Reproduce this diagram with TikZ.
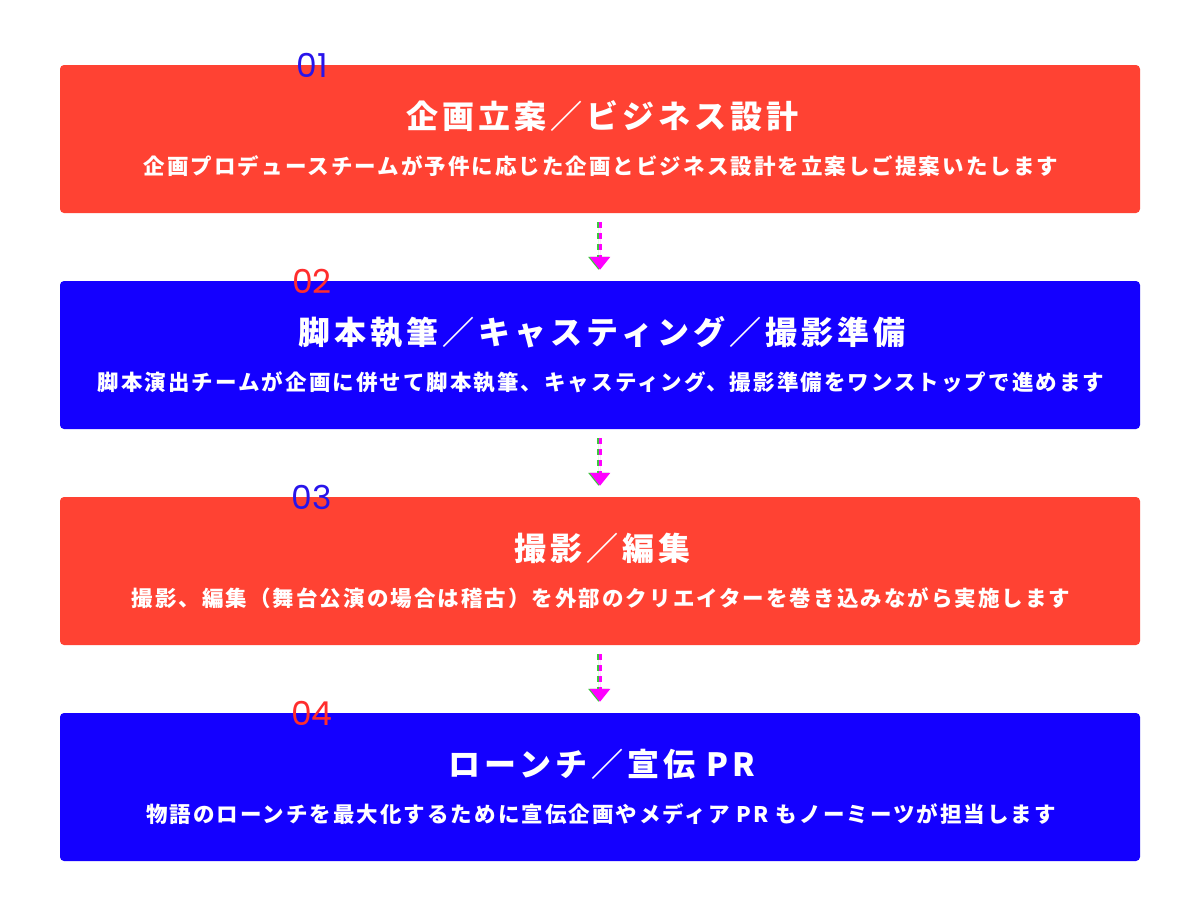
\documentclass[tikz,border=0pt]{standalone}
\usepackage{fontspec}
\usetikzlibrary{arrows.meta}
\newfontfamily\jptitle{Noto Sans CJK JP}[LetterSpace=12.5]
\newfontfamily\jpsub{Noto Sans CJK JP}[LetterSpace=9.5]
\newfontfamily\numfont{Poppins}
\definecolor{stepred}{RGB}{255,66,51}
\definecolor{stepblue}{RGB}{20,0,255}
\definecolor{numblue}{RGB}{40,20,235}
\definecolor{numred}{RGB}{255,45,45}
\definecolor{arrmag}{RGB}{255,0,255}
\definecolor{arrgreen}{RGB}{60,200,60}
\tikzset{
  x=1pt, y=-1pt,
  stepbox/.style={rectangle, rounded corners=4pt, minimum width=1080pt, minimum height=148pt, inner sep=0pt, draw=none},
  redbox/.style={stepbox, fill=stepred},
  bluebox/.style={stepbox, fill=stepblue},
  titletext/.style={anchor=base, text=white, inner sep=0pt, font=\jptitle\bfseries\fontsize{32}{38}\selectfont},
  subtext/.style={anchor=base, text=white, inner sep=0pt, font=\jpsub\bfseries\fontsize{21.5}{26}\selectfont},
  numtext/.style={anchor=base, inner sep=0pt, font=\numfont\fontsize{33}{36}\selectfont},
  flowarr/.style={draw=arrmag, line width=3pt, dash pattern=on 6pt off 5pt, -{Triangle[width=20pt,length=13pt]}, fill=arrmag},
  flowarrg/.style={draw=arrgreen, line width=3pt, dash pattern=on 6pt off 5pt, -{Triangle[width=20pt,length=13pt]}, fill=arrgreen}
}
\begin{document}
\begin{tikzpicture}
\useasboundingbox[fill=white] (0,0) rectangle (1200,908);
\node[redbox]  (b1) at (600,139) {};
\node[bluebox] (b2) at (600,355) {};
\node[redbox]  (b3) at (600,571) {};
\node[bluebox] (b4) at (600,787) {};

\node[titletext] (t1) at (602,128.5) {企画立案／ビジネス設計};
\node[subtext]   (s1) at (601,174.5) {企画プロデュースチームが予件に応じた企画とビジネス設計を立案しご提案いたします};
\node[titletext] (t2) at (602,344.5) {脚本執筆／キャスティング／撮影準備};
\node[subtext]   (s2) at (601,390.5) {脚本演出チームが企画に併せて脚本執筆、キャスティング、撮影準備をワンストップで進めます};
\node[titletext] (t3) at (602,560.5) {撮影／編集};
\node[subtext]   (s3) at (601,606.5) {撮影、編集（舞台公演の場合は稽古）を外部のクリエイターを巻き込みながら実施します};
\node[titletext] (t4) at (602,776.5) {ローンチ／宣伝 PR};
\node[subtext]   (s4) at (601,822.5) {物語のローンチを最大化するために宣伝企画やメディア PR もノーミーツが担当します};

\node[numtext, text=numblue] (n1) at (312,77) {01};
\node[numtext, text=numred]  (n2) at (312,293) {02};
\node[numtext, text=numblue] (n3) at (312,509) {03};
\node[numtext, text=numred]  (n4) at (312,725) {04};

\foreach \a/\b in {b1/b2, b2/b3, b3/b4}{
  \draw[flowarrg, transform canvas={xshift=-1.5pt}] ([yshift=-9pt]\a.south) -- ([yshift=11pt]\b.north);
  \draw[flowarr] ([yshift=-9pt]\a.south) -- ([yshift=11pt]\b.north);
}
\end{tikzpicture}
\end{document}
